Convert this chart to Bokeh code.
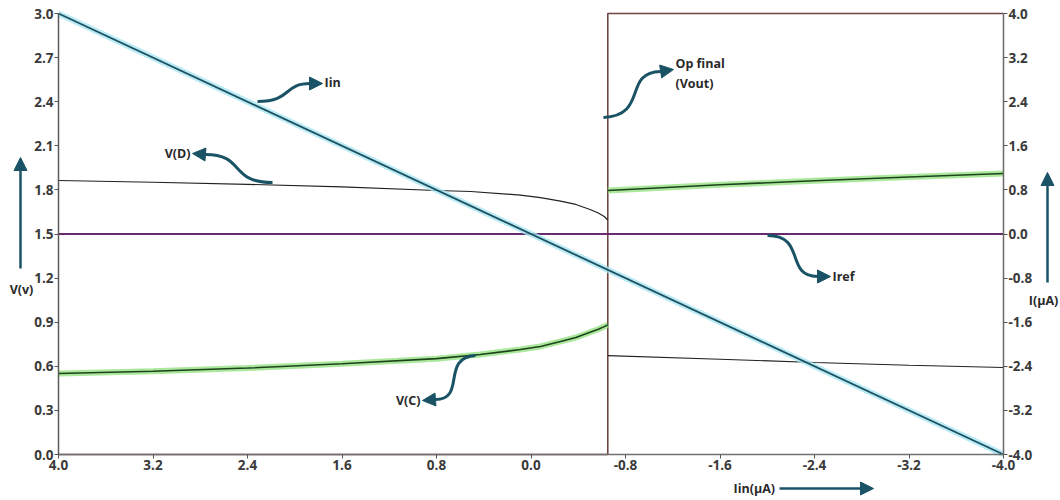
from bokeh.plotting import figure
from bokeh.models import (Range1d, LinearAxis, FixedTicker, NumeralTickFormatter,
                          Label, Arrow, NormalHead)
from bokeh.embed import file_html
from bokeh.resources import INLINE

# ---------------- data ----------------
x_ticks = [4.0, 3.2, 2.4, 1.6, 0.8, 0.0, -0.8, -1.6, -2.4, -3.2, -4.0]
v_ticks = [0.0, 0.3, 0.6, 0.9, 1.2, 1.5, 1.8, 2.1, 2.4, 2.7, 3.0]
i_ticks = [-4.0, -3.2, -2.4, -1.6, -0.8, 0.0, 0.8, 1.6, 2.4, 3.2, 4.0]

# Iin sweep (right axis, uA)
iin_x = [4.0, -4.0]
iin_i = [4.0, -4.0]
# Iref (right axis, uA)
iref_x = [4.0, -4.0]
iref_i = [0.0, 0.0]
# V(D) (left axis, V) - left half
vd_x = [4.0, 3.2, 2.4, 1.6, 0.8, 0.51, 0.09, -0.08, -0.25, -0.38, -0.50, -0.57, -0.62, -0.65]
vd_v = [1.864, 1.852, 1.838, 1.82, 1.796, 1.789, 1.765, 1.748, 1.724, 1.701, 1.667, 1.643, 1.619, 1.595]
# V(C) (left axis, V) - left half
vc_x = [4.0, 3.2, 2.4, 1.6, 0.8, 0.43, 0.09, -0.08, -0.25, -0.38, -0.50, -0.57, -0.62, -0.65]
vc_v = [0.551, 0.566, 0.588, 0.617, 0.652, 0.68, 0.714, 0.735, 0.769, 0.796, 0.832, 0.852, 0.870, 0.882]
# Op final (Vout) - right half, green
vo_x = [-0.65, -1.6, -2.4, -3.2, -4.0]
vo_v = [1.796, 1.835, 1.862, 1.888, 1.912]
# right half, black
vr_x = [-0.65, -1.6, -2.4, -3.2, -4.0]
vr_v = [0.673, 0.648, 0.626, 0.607, 0.592]
divider_x = -0.65

# ---------------- layout helpers (pixel -> data) ----------------
W, H = 1060, 500
FL, FR, FT, FB = 58, 1003, 13, 454
def dx(px):
    return 4.0 - (px - FL) * 8.0 / (FR - FL)
def dy(py):
    return (FB - py) * 3.0 / (FB - FT)
def di(py):
    return dy(py) * 8.0 / 3.0 - 4.0

FONT = "Open Sans"
ARROW_C = "#1b5366"
BROWN = "#6e4640"

p = figure(width=W, height=H, output_backend="svg", toolbar_location=None,
           x_range=Range1d(dx(0), dx(W)), y_range=Range1d(dy(H), dy(0)),
           min_border_left=0, min_border_right=0, min_border_top=0, min_border_bottom=0,
           x_axis_location=None, y_axis_location=None)
p.grid.visible = False
p.outline_line_color = None
p.background_fill_color = "white"
p.border_fill_color = "white"
p.extra_y_ranges = {"I": Range1d(di(H), di(0))}

def style_axis(ax, line_color):
    ax.axis_line_color = line_color
    ax.axis_line_width = 1.5
    ax.major_tick_line_color = "#555555"
    ax.major_tick_out = 4
    ax.major_tick_in = 0
    ax.minor_tick_line_color = None
    ax.major_label_text_font = FONT
    ax.major_label_text_font_style = "bold"
    ax.major_label_text_font_size = "13.5px"
    ax.major_label_text_color = "#3a3a3a"
    ax.major_label_standoff = 1
    ax.formatter = NumeralTickFormatter(format="0.0")

xa = LinearAxis(ticker=FixedTicker(ticks=x_ticks), fixed_location=0.0, bounds=(-4.0, 4.0))
style_axis(xa, "#707070")
p.add_layout(xa, "below")

ya = LinearAxis(ticker=FixedTicker(ticks=v_ticks), fixed_location=4.0, bounds=(0.0, 3.0))
style_axis(ya, "#5a5a5a")
p.add_layout(ya, "left")

ia = LinearAxis(y_range_name="I", ticker=FixedTicker(ticks=i_ticks), fixed_location=-4.0,
                bounds=(-4.0, 4.0))
style_axis(ia, "#6a6a6a")
p.add_layout(ia, "right")

# brown frame pieces: bottom of left half, divider and top of right half
p.line([4.0, divider_x], [0.0, 0.0], line_color=BROWN, line_width=1.6)
p.line([divider_x, divider_x, -4.0], [0.0, 3.0, 3.0], line_color=BROWN, line_width=1.6)

# ---------------- series ----------------
p.line(iref_x, iref_i, y_range_name="I", line_color="#6a2a6e", line_width=2.2)

p.line(vd_x, vd_v, line_color="#222222", line_width=1.2)
p.line(vr_x, vr_v, line_color="#222222", line_width=1.2)

for xs, ys in ((vc_x, vc_v), (vo_x, vo_v)):
    p.line(xs, ys, line_color="#8fe07a", line_width=6, line_alpha=0.75)
    p.line(xs, ys, line_color="#1e421e", line_width=1.6)

p.line(iin_x, iin_i, y_range_name="I", line_color="#a6e6f2", line_width=6, line_alpha=0.8)
p.line(iin_x, iin_i, y_range_name="I", line_color="#1d4f5f", line_width=1.8)

# ---------------- curved annotation arrows ----------------
curves = [
    # start, cp0, cp1, end, tip
    ((257, 101), (292, 101), (282, 83), (310, 83), (322, 83)),
    ((272, 182), (228, 182), (245, 154), (205, 154), (192, 153)),
    ((603, 117), (648, 115), (622, 72), (660, 71), (673, 69)),
    ((767, 235), (806, 235), (784, 276), (817, 276), (830, 276)),
    ((475, 355), (440, 357), (466, 399), (435, 399), (422, 400)),
]
for s, c0, c1, e, t in curves:
    p.bezier(x0=[dx(s[0])], y0=[dy(s[1])], x1=[dx(e[0])], y1=[dy(e[1])],
             cx0=[dx(c0[0])], cy0=[dy(c0[1])], cx1=[dx(c1[0])], cy1=[dy(c1[1])],
             line_color=ARROW_C, line_width=3)
    p.add_layout(Arrow(end=NormalHead(size=13, fill_color=ARROW_C, line_color=ARROW_C),
                       x_start=dx(e[0]), y_start=dy(e[1]), x_end=dx(t[0]), y_end=dy(t[1]),
                       line_color=ARROW_C, line_width=3))

def label(px, py, text, align="left"):
    p.add_layout(Label(x=dx(px), y=dy(py), text=text, text_font=FONT,
                       text_font_style="bold", text_font_size="12.5px",
                       text_color="#2a2a2a", text_align=align, text_baseline="middle"))

label(324, 82, "Iin")
label(190, 153, "V(D)", "right")
label(675, 63, "Op final")
label(675, 83, "(Vout)")
label(832, 276, "Iref")
label(420, 400, "V(C)", "right")

# axis-direction arrows and titles
p.add_layout(Arrow(end=NormalHead(size=13, fill_color=ARROW_C, line_color=ARROW_C),
                   x_start=dx(20), y_start=dy(268), x_end=dx(20), y_end=dy(157),
                   line_color=ARROW_C, line_width=2.5))
label(21, 289, "V(v)", "center")

p.add_layout(Arrow(end=NormalHead(size=13, fill_color=ARROW_C, line_color=ARROW_C),
                   x_start=dx(1047), y_start=dy(282), x_end=dx(1047), y_end=dy(172),
                   line_color=ARROW_C, line_width=2.5))
label(1043, 300, "I(μA)", "center")

p.add_layout(Arrow(end=NormalHead(size=13, fill_color=ARROW_C, line_color=ARROW_C),
                   x_start=dx(779), y_start=dy(488), x_end=dx(873), y_end=dy(488),
                   line_color=ARROW_C, line_width=2.5))
label(733, 488, "Iin(μA)")

open("out.html", "w").write(file_html(p, INLINE))
